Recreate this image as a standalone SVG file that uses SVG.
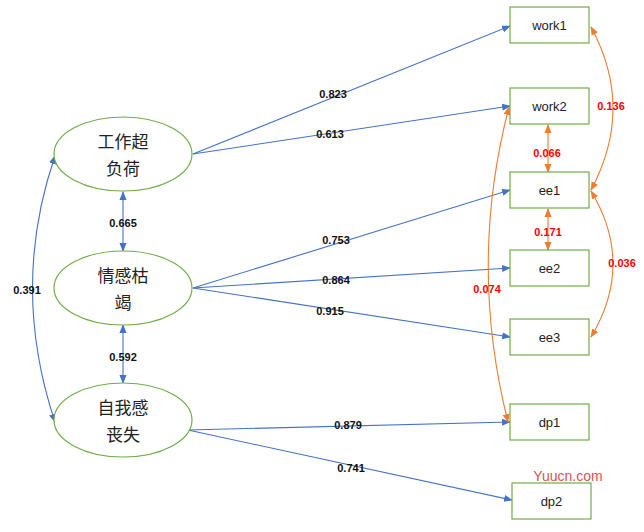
<svg xmlns="http://www.w3.org/2000/svg" width="644" height="532" viewBox="0 0 644 532">
<style>
.el{fill:#fff;stroke:#70ad47;stroke-width:1.2}
.bx{fill:#fff;stroke:#70ad47;stroke-width:1.2}
.cn{font-family:"Noto Sans CJK SC",sans-serif;font-size:17px;fill:#222;text-anchor:middle}
.bt{font-family:"Liberation Sans",sans-serif;font-size:13px;fill:#222;text-anchor:middle}
.bl{stroke:#4472c4;stroke-width:1.1;fill:none}
.or{stroke:#ed7d31;stroke-width:1.1;fill:none}
.lb{font-family:"Liberation Sans",sans-serif;font-size:11px;font-weight:bold;fill:#111;text-anchor:middle}
.lr{font-family:"Liberation Sans",sans-serif;font-size:11px;font-weight:bold;fill:#f00;text-anchor:middle}
</style>
<defs>
<marker id="ab" viewBox="0 0 10 10" refX="9" refY="5" markerWidth="8" markerHeight="8" orient="auto-start-reverse"><path d="M0,1L10,5L0,9z" fill="#4472c4"/></marker>
<marker id="ao" viewBox="0 0 10 10" refX="9" refY="5" markerWidth="8" markerHeight="8" orient="auto-start-reverse"><path d="M0,1L10,5L0,9z" fill="#ed7d31"/></marker>
</defs>
<rect width="644" height="532" fill="#fff"/>
<g id="connectors">
<path class="bl" marker-end="url(#ab)" d="M193,154L510,26"/>
<path class="bl" marker-end="url(#ab)" d="M193,154L510,106"/>
<path class="bl" marker-end="url(#ab)" d="M193,288L510,190"/>
<path class="bl" marker-end="url(#ab)" d="M193,288L510,268"/>
<path class="bl" marker-end="url(#ab)" d="M193,288L510,337"/>
<path class="bl" marker-end="url(#ab)" d="M188,430L510,422"/>
<path class="bl" marker-end="url(#ab)" d="M188,430L512,500"/>
<path class="bl" marker-start="url(#ab)" marker-end="url(#ab)" d="M123,192L123,251"/>
<path class="bl" marker-start="url(#ab)" marker-end="url(#ab)" d="M123,325L123,383"/>
<path class="bl" marker-start="url(#ab)" marker-end="url(#ab)" d="M55,156Q10,287 55,422"/>
<path class="or" marker-start="url(#ao)" marker-end="url(#ao)" d="M548,125L548,172"/>
<path class="or" marker-start="url(#ao)" marker-end="url(#ao)" d="M548,209L548,250"/>
<path class="or" marker-start="url(#ao)" marker-end="url(#ao)" d="M591,27Q635,108 591,190"/>
<path class="or" marker-start="url(#ao)" marker-end="url(#ao)" d="M591,191Q635,264 591,337"/>
<path class="or" marker-start="url(#ao)" marker-end="url(#ao)" d="M509,107Q468,264 508,422"/>
</g>
<g id="f1"><ellipse class="el" cx="123" cy="154" rx="69" ry="37"/><text class="cn" x="123" y="148">工作超</text><text class="cn" x="123" y="175">负荷</text></g>
<g id="f2"><ellipse class="el" cx="123" cy="288" rx="69" ry="37"/><text class="cn" x="123" y="282">情感枯</text><text class="cn" x="123" y="309">竭</text></g>
<g id="f3"><ellipse class="el" cx="123" cy="420" rx="69" ry="37"/><text class="cn" x="123" y="414">自我感</text><text class="cn" x="123" y="441">丧失</text></g>
<g id="work1"><rect class="bx" x="510" y="7" width="79" height="36"/><text class="bt" x="549.5" y="30">work1</text></g>
<g id="work2"><rect class="bx" x="510" y="88" width="79" height="36"/><text class="bt" x="549.5" y="111">work2</text></g>
<g id="ee1"><rect class="bx" x="510" y="172" width="79" height="36"/><text class="bt" x="549.5" y="195">ee1</text></g>
<g id="ee2"><rect class="bx" x="510" y="250" width="79" height="36"/><text class="bt" x="549.5" y="273">ee2</text></g>
<g id="ee3"><rect class="bx" x="510" y="319" width="79" height="36"/><text class="bt" x="549.5" y="342">ee3</text></g>
<g id="dp1"><rect class="bx" x="510" y="404" width="79" height="36"/><text class="bt" x="549.5" y="427">dp1</text></g>
<g id="dp2"><rect class="bx" x="512" y="483" width="79" height="36"/><text class="bt" x="551.5" y="506">dp2</text></g>
<g id="labels">
<text class="lb" x="333" y="98">0.823</text>
<text class="lb" x="330" y="138">0.613</text>
<text class="lb" x="336" y="244">0.753</text>
<text class="lb" x="336" y="284">0.864</text>
<text class="lb" x="330" y="315">0.915</text>
<text class="lb" x="348" y="429">0.879</text>
<text class="lb" x="351" y="472">0.741</text>
<text class="lb" x="123" y="227">0.665</text>
<text class="lb" x="123" y="361">0.592</text>
<text class="lb" x="27" y="294">0.391</text>
<text class="lr" x="611" y="110">0.136</text>
<text class="lr" x="547" y="157">0.066</text>
<text class="lr" x="548" y="236">0.171</text>
<text class="lr" x="622" y="267">0.036</text>
<text class="lr" x="487" y="293">0.074</text>
<text x="568" y="481" font-family="Liberation Sans,sans-serif" font-size="14" fill="#d9534f" text-anchor="middle">Yuucn.com</text>
</g>
</svg>
